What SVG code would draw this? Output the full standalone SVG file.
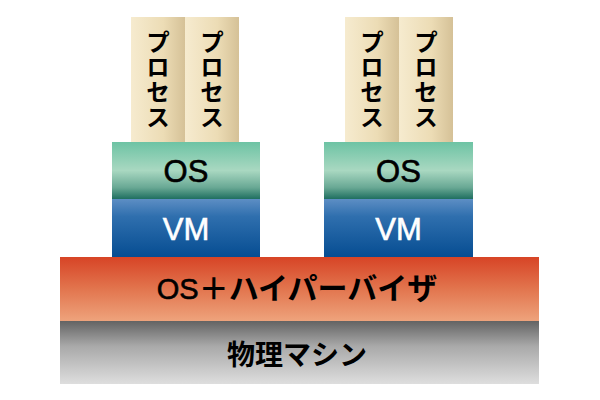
<svg xmlns="http://www.w3.org/2000/svg" width="600" height="400" viewBox="0 0 600 400">
<defs>
<linearGradient id="gProc" x1="0" y1="0" x2="1" y2="0">
<stop offset="0" stop-color="#f6ebcf"/><stop offset="0.6" stop-color="#ecdcb5"/><stop offset="1" stop-color="#d5c197"/>
</linearGradient>
<linearGradient id="gOS" x1="0" y1="0" x2="0" y2="1">
<stop offset="0" stop-color="#6dc3a4"/><stop offset="0.5" stop-color="#a9d8c1"/><stop offset="0.8" stop-color="#68a894"/><stop offset="1" stop-color="#1f6f60"/>
</linearGradient>
<linearGradient id="gVM" x1="0" y1="0" x2="0" y2="1">
<stop offset="0" stop-color="#5d8ec4"/><stop offset="0.3" stop-color="#2f6fae"/><stop offset="1" stop-color="#064d92"/>
</linearGradient>
<linearGradient id="gHV" x1="0" y1="0" x2="0" y2="1">
<stop offset="0" stop-color="#d74426"/><stop offset="0.5" stop-color="#e2754e"/><stop offset="1" stop-color="#eea37c"/>
</linearGradient>
<linearGradient id="gHW" x1="0" y1="0" x2="0" y2="1">
<stop offset="0" stop-color="#636363"/><stop offset="0.4" stop-color="#a9a9a9"/><stop offset="1" stop-color="#dedede"/>
</linearGradient>
<style>
text{text-anchor:middle;fill:#000}
.jp{font-family:"Noto Sans CJK JP","Noto Sans",sans-serif;font-weight:700}
.lat{font-family:"Liberation Sans",Arial,sans-serif;font-weight:400;stroke:#000;stroke-width:0.6px}
.proc{font-size:24px;writing-mode:vertical-rl;letter-spacing:1px}
.lbl{font-size:31px}
.white{fill:#fff;stroke:#fff}
</style>
</defs>
<g id="hardware"><rect x="60" y="321" width="479" height="63" fill="url(#gHW)"/><text class="jp" font-size="28" x="297" y="365">物理マシン</text></g>
<g id="hypervisor"><rect x="60" y="257" width="479" height="64" fill="url(#gHV)"/><text x="297" y="299"><tspan class="lat" font-size="29">OS</tspan><tspan class="jp" font-size="30">＋ハイパーバイザ</tspan></text></g>
<g id="vm1"><rect x="112" y="199" width="148" height="58" fill="url(#gVM)"/><text class="lat lbl white" x="186" y="240">VM</text></g>
<g id="os1"><rect x="112" y="142" width="148" height="57" fill="url(#gOS)"/><text class="lat lbl" x="186" y="182">OS</text></g>
<g id="vm2"><rect x="324" y="199" width="149" height="58" fill="url(#gVM)"/><text class="lat lbl white" x="398.5" y="240">VM</text></g>
<g id="os2"><rect x="324" y="142" width="149" height="57" fill="url(#gOS)"/><text class="lat lbl" x="398.5" y="182">OS</text></g>
<g id="proc1"><rect x="131" y="17" width="54" height="125" fill="url(#gProc)"/><text class="jp proc" x="158" y="80">プロセス</text></g>
<g id="proc2"><rect x="185" y="17" width="54" height="125" fill="url(#gProc)"/><text class="jp proc" x="212" y="80">プロセス</text></g>
<g id="proc3"><rect x="345" y="17" width="54" height="125" fill="url(#gProc)"/><text class="jp proc" x="372" y="80">プロセス</text></g>
<g id="proc4"><rect x="399" y="17" width="54" height="125" fill="url(#gProc)"/><text class="jp proc" x="426" y="80">プロセス</text></g>
<g id="connectors"/>
</svg>
